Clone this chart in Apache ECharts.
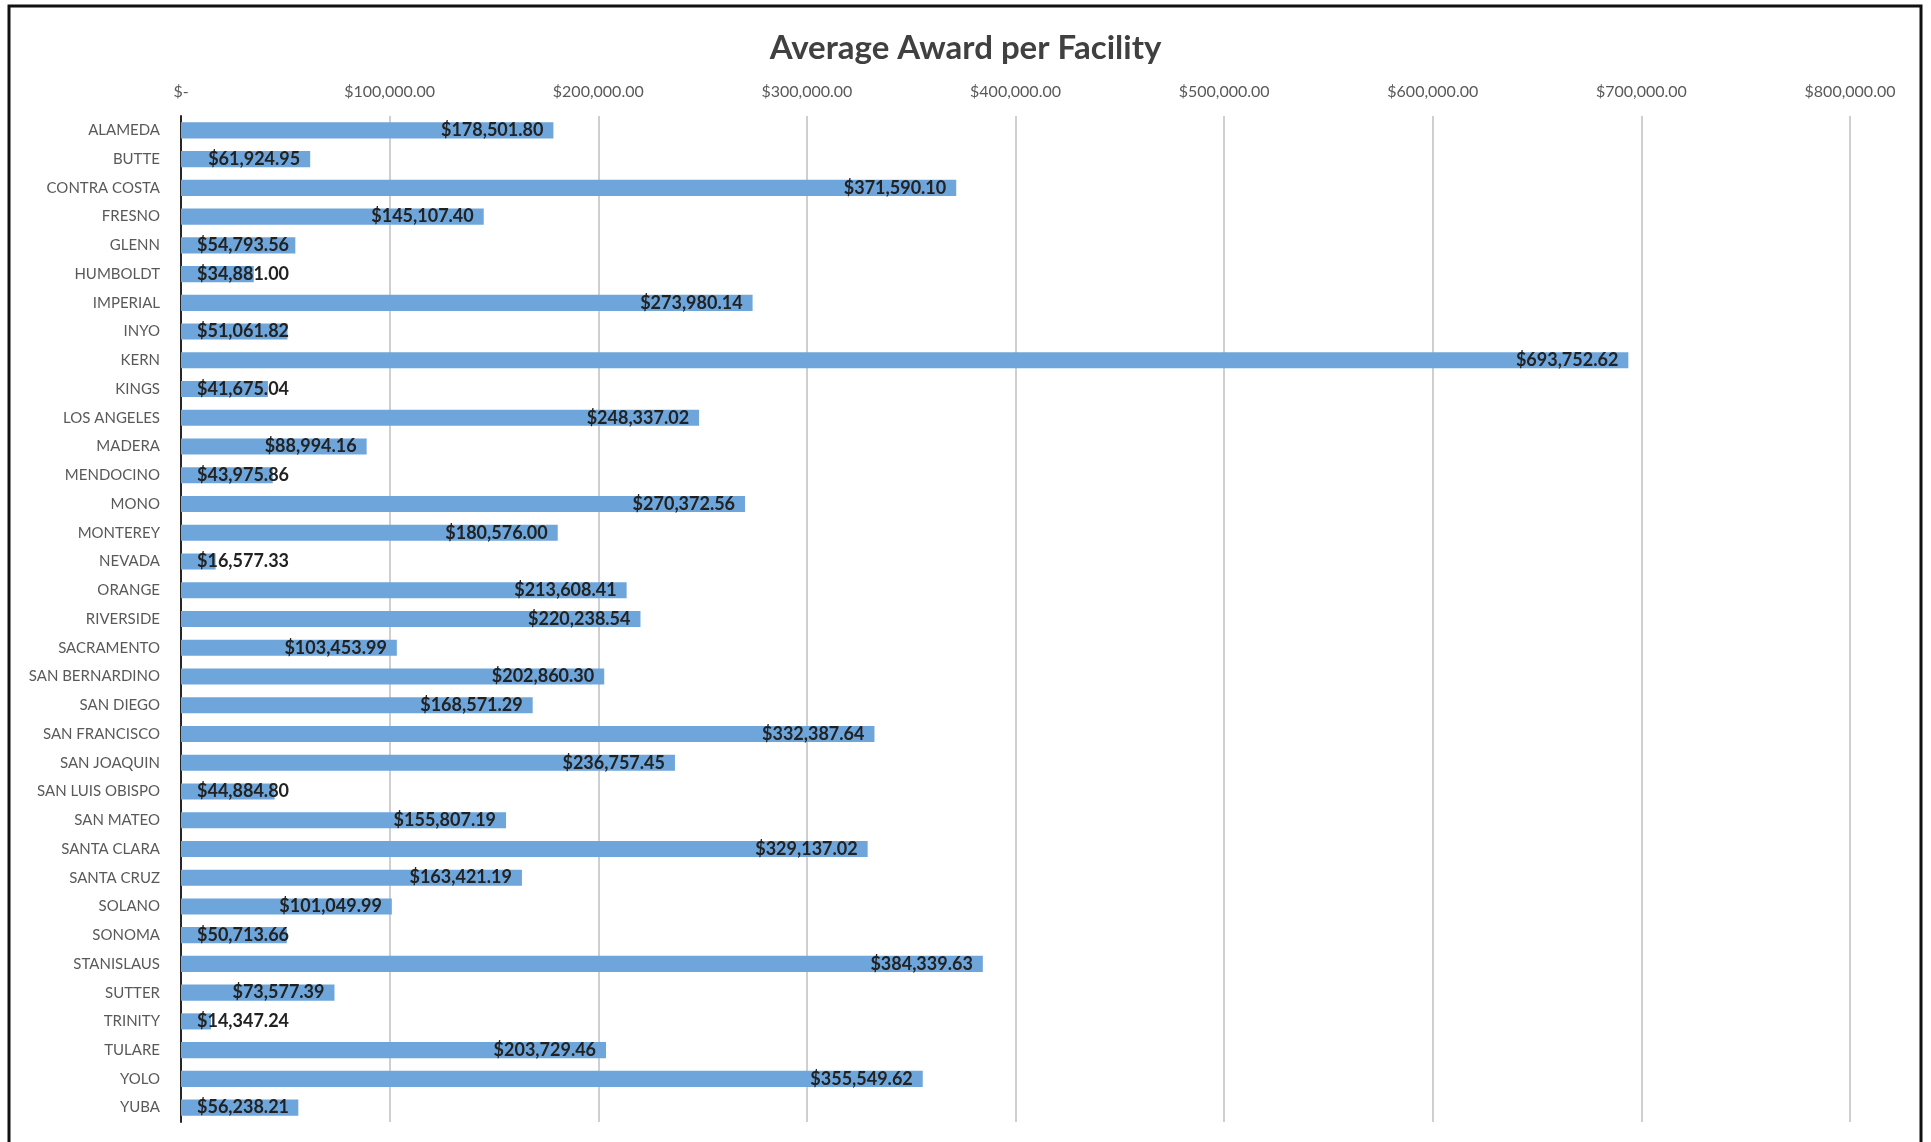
<!DOCTYPE html>
<html>
<head>
<meta charset="UTF-8">
<script src="https://cdn.jsdelivr.net/npm/echarts@6/dist/echarts.min.js"></script>
<style>
  html, body { margin: 0; padding: 0; background: #fff; }
  #chart { width: 1931px; height: 1142px; }
</style>
</head>
<body>
<div id="chart"></div>
<script>
// counties, top to bottom
var counties = ['ALAMEDA', 'BUTTE', 'CONTRA COSTA', 'FRESNO', 'GLENN', 'HUMBOLDT', 'IMPERIAL', 'INYO', 'KERN', 'KINGS',
  'LOS ANGELES', 'MADERA', 'MENDOCINO', 'MONO', 'MONTEREY', 'NEVADA', 'ORANGE', 'RIVERSIDE', 'SACRAMENTO',
  'SAN BERNARDINO', 'SAN DIEGO', 'SAN FRANCISCO', 'SAN JOAQUIN', 'SAN LUIS OBISPO', 'SAN MATEO', 'SANTA CLARA',
  'SANTA CRUZ', 'SOLANO', 'SONOMA', 'STANISLAUS', 'SUTTER', 'TRINITY', 'TULARE', 'YOLO', 'YUBA'];
var awards = [178501.80, 61924.95, 371590.10, 145107.40, 54793.56, 34881.00, 273980.14, 51061.82, 693752.62, 41675.04,
  248337.02, 88994.16, 43975.86, 270372.56, 180576.00, 16577.33, 213608.41, 220238.54, 103453.99,
  202860.30, 168571.29, 332387.64, 236757.45, 44884.80, 155807.19, 329137.02,
  163421.19, 101049.99, 50713.66, 384339.63, 73577.39, 14347.24, 203729.46, 355549.62, 56238.21];
var axisTicks = [0, 100000, 200000, 300000, 400000, 500000, 600000, 700000, 800000];

function money(v) {
  if (v === 0) return '$-';
  return '$' + v.toLocaleString('en-US', { minimumFractionDigits: 2, maximumFractionDigits: 2 });
}

var font = 'Lato, "Open Sans", sans-serif';

// short bars: label starts from the axis and runs past the end
var barData = awards.map(function (v) {
  var item = { value: v };
  if (v < 57000) {
    item.label = { position: 'insideLeft', distance: 16 };
  }
  return item;
});

var myChart = echarts.init(document.getElementById('chart'));
var option = {
  backgroundColor: '#fff',
  animation: false,
  title: {
    text: 'Average Award per Facility',
    left: 'center',
    top: 27,
    textStyle: { fontFamily: font, fontSize: 33, fontWeight: 'bold', color: '#404040' }
  },
  grid: { left: 181, right: 81, top: 116, bottom: 20, containLabel: false },
  xAxis: {
    type: 'value',
    position: 'top',
    min: axisTicks[0],
    max: axisTicks[axisTicks.length - 1],
    interval: 100000,
    axisLine: { show: false },
    axisTick: { show: false },
    axisLabel: {
      margin: 16,
      fontFamily: font,
      fontSize: 16,
      color: '#595959',
      formatter: money
    },
    splitLine: { show: true, lineStyle: { color: '#cfcfcf', width: 2 } }
  },
  yAxis: {
    type: 'category',
    inverse: true,
    data: counties,
    axisLine: { show: true, lineStyle: { color: '#262626', width: 2 } },
    axisTick: { show: false },
    axisLabel: { margin: 21, fontFamily: font, fontSize: 15, color: '#595959' }
  },
  series: [{
    type: 'bar',
    data: barData,
    barCategoryGap: '44%',
    itemStyle: { color: '#6ea6db' },
    label: {
      show: true,
      position: 'insideRight',
      distance: 10,
      fontFamily: font,
      fontSize: 18,
      fontWeight: 'bold',
      color: '#222',
      formatter: function (p) { return money(p.value); }
    }
  }],
  graphic: [{
    type: 'rect',
    shape: { x: 9, y: 6, width: 1912, height: 1160 },
    style: { fill: null, stroke: '#111', lineWidth: 3 },
    silent: true
  }]
};
myChart.setOption(option);
</script>
</body>
</html>
